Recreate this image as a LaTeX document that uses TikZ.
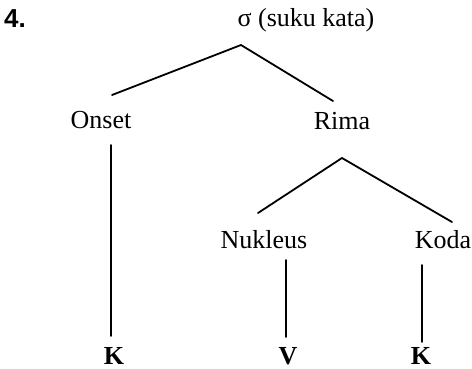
\documentclass[tikz,border=0pt]{standalone}
\usepackage{fontspec}
\setmainfont{Liberation Serif}
\newfontfamily\numfont{Liberation Sans}
\usetikzlibrary{calc}
\tikzset{
  lbl/.style={inner sep=0pt, anchor=base, font=\fontsize{26}{30}\selectfont},
  leaf/.style={lbl, font=\fontsize{26}{30}\selectfont\bfseries},
  branch/.style={line width=1.8pt, line cap=round}
}
\begin{document}
\begin{tikzpicture}[x=1pt, y=-1pt]
  \useasboundingbox (0,0) rectangle (472,368);

  % example number
  \node[inner sep=0pt, anchor=base west, font=\fontsize{26}{30}\selectfont\numfont\bfseries] (num) at (4,27) {4.};

  % tree labels
  \node[lbl] (title) at (306,26) {σ (suku kata)};
  \node[lbl] (onset) at (101,128) {Onset};
  \node[lbl] (rima)  at (342,129) {Rima};
  \node[lbl] (nuk)   at (264,248) {Nukleus};
  \node[lbl] (koda)  at (443,248) {Koda};
  \node[leaf] (k1)   at (114,364) {K};
  \node[leaf] (v)    at (288,364) {V};
  \node[leaf] (k2)   at (421,364) {K};

  % branch end points, placed relative to their labels
  \coordinate (sigfoot)  at ($(title.base)+(-65,19)$);
  \coordinate (onsethd)  at ($(onset.base)+(11,-33)$);
  \coordinate (onsetft)  at ($(onset.base)+(10,17)$);
  \coordinate (k1hd)     at ($(k1.base)+(-3,-28)$);
  \coordinate (rimahd)   at ($(rima.base)+(-9,-28)$);
  \coordinate (rimaft)   at ($(rima.base)+(0,29)$);
  \coordinate (nukhd)    at ($(nuk.base)+(-6,-35)$);
  \coordinate (nukft)    at ($(nuk.base)+(22,12)$);
  \coordinate (vhd)      at ($(v.base)+(-2,-27)$);
  \coordinate (kodahd)   at ($(koda.base)+(9,-26)$);
  \coordinate (kodaft)   at ($(koda.base)+(-21,17)$);
  \coordinate (k2hd)     at ($(k2.base)+(1,-22)$);

  % branches
  \draw[branch] (onsethd) -- (sigfoot) -- (rimahd);
  \draw[branch] (nukhd) -- (rimaft) -- (kodahd);
  \draw[branch] (onsetft) -- (onsetft |- k1hd);
  \draw[branch] (nukft) -- (nukft |- vhd);
  \draw[branch] (kodaft) -- (kodaft |- k2hd);
\end{tikzpicture}
\end{document}
